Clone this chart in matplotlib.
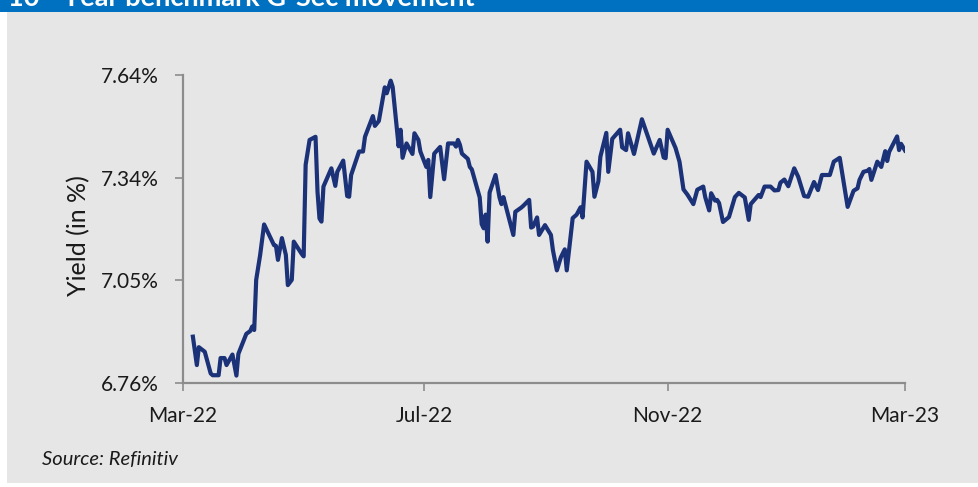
import numpy as np
import pandas as pd
import matplotlib
matplotlib.use('Agg')
import matplotlib.pyplot as plt
from matplotlib.patches import Rectangle

# 10-year G-Sec yield
dates = [
    '2022-03-06', '2022-03-08', '2022-03-09', '2022-03-12', '2022-03-15', '2022-03-16', '2022-03-19', '2022-03-20', '2022-03-22', '2022-03-23',
    '2022-03-26', '2022-03-28', '2022-03-29', '2022-04-02', '2022-04-04', '2022-04-05', '2022-04-06', '2022-04-07', '2022-04-09', '2022-04-11',
    '2022-04-16', '2022-04-17', '2022-04-18', '2022-04-20', '2022-04-22', '2022-04-23', '2022-04-25', '2022-04-26', '2022-04-30', '2022-05-01',
    '2022-05-02', '2022-05-04', '2022-05-07', '2022-05-08', '2022-05-09', '2022-05-10', '2022-05-11', '2022-05-15', '2022-05-17', '2022-05-18',
    '2022-05-21', '2022-05-23', '2022-05-24', '2022-05-25', '2022-05-29', '2022-05-31', '2022-06-01', '2022-06-05', '2022-06-06', '2022-06-08',
    '2022-06-11', '2022-06-12', '2022-06-14', '2022-06-15', '2022-06-18', '2022-06-19', '2022-06-20', '2022-06-22', '2022-06-25', '2022-06-26',
    '2022-06-28', '2022-06-29', '2022-07-02', '2022-07-03', '2022-07-04', '2022-07-06', '2022-07-09', '2022-07-11', '2022-07-13', '2022-07-16',
    '2022-07-17', '2022-07-18', '2022-07-19', '2022-07-20', '2022-07-23', '2022-07-24', '2022-07-25', '2022-07-27', '2022-07-29', '2022-07-30',
    '2022-07-31', '2022-08-01', '2022-08-02', '2022-08-03', '2022-08-06', '2022-08-08', '2022-08-09', '2022-08-10', '2022-08-15', '2022-08-16',
    '2022-08-19', '2022-08-20', '2022-08-23', '2022-08-24', '2022-08-25', '2022-08-27', '2022-08-28', '2022-08-31', '2022-09-03', '2022-09-04',
    '2022-09-06', '2022-09-08', '2022-09-10', '2022-09-11', '2022-09-14', '2022-09-16', '2022-09-18', '2022-09-19', '2022-09-21', '2022-09-24',
    '2022-09-25', '2022-09-27', '2022-09-28', '2022-10-01', '2022-10-02', '2022-10-04', '2022-10-08', '2022-10-09', '2022-10-11', '2022-10-12',
    '2022-10-15', '2022-10-19', '2022-10-25', '2022-10-28', '2022-10-30', '2022-10-31', '2022-11-01', '2022-11-05', '2022-11-07', '2022-11-09',
    '2022-11-11', '2022-11-14', '2022-11-16', '2022-11-19', '2022-11-20', '2022-11-22', '2022-11-23', '2022-11-25', '2022-11-26', '2022-11-27',
    '2022-11-29', '2022-12-02', '2022-12-05', '2022-12-07', '2022-12-10', '2022-12-12', '2022-12-13', '2022-12-17', '2022-12-18', '2022-12-20',
    '2022-12-23', '2022-12-25', '2022-12-27', '2022-12-28', '2022-12-30', '2023-01-01', '2023-01-04', '2023-01-06', '2023-01-09', '2023-01-11',
    '2023-01-14', '2023-01-16', '2023-01-18', '2023-01-22', '2023-01-24', '2023-01-27', '2023-01-31', '2023-02-03', '2023-02-05', '2023-02-06',
    '2023-02-08', '2023-02-10', '2023-02-11', '2023-02-12', '2023-02-15', '2023-02-17', '2023-02-19', '2023-02-20', '2023-02-21', '2023-02-25',
    '2023-02-26', '2023-02-27', '2023-03-01',
]
yields = [
    6.893, 6.812, 6.863, 6.850, 6.788, 6.783, 6.783, 6.832, 6.832, 6.812,
    6.842, 6.782, 6.844, 6.901, 6.909, 6.922, 6.912, 7.055, 7.126, 7.213,
    7.154, 7.152, 7.112, 7.174, 7.126, 7.040, 7.055, 7.164, 7.129, 7.122,
    7.383, 7.454, 7.463, 7.306, 7.230, 7.221, 7.321, 7.373, 7.323, 7.363,
    7.395, 7.294, 7.292, 7.354, 7.421, 7.421, 7.463, 7.522, 7.494, 7.508,
    7.604, 7.587, 7.623, 7.605, 7.436, 7.483, 7.403, 7.444, 7.414, 7.473,
    7.454, 7.421, 7.377, 7.397, 7.291, 7.415, 7.434, 7.342, 7.444, 7.444,
    7.435, 7.454, 7.440, 7.415, 7.400, 7.377, 7.370, 7.330, 7.290, 7.214,
    7.202, 7.241, 7.164, 7.304, 7.354, 7.290, 7.271, 7.291, 7.183, 7.249,
    7.261, 7.266, 7.283, 7.204, 7.207, 7.233, 7.183, 7.211, 7.183, 7.140,
    7.082, 7.119, 7.142, 7.082, 7.231, 7.241, 7.262, 7.233, 7.392, 7.363,
    7.292, 7.336, 7.406, 7.474, 7.363, 7.457, 7.483, 7.433, 7.425, 7.473,
    7.414, 7.513, 7.415, 7.454, 7.404, 7.402, 7.483, 7.431, 7.392, 7.313,
    7.298, 7.271, 7.312, 7.321, 7.291, 7.253, 7.302, 7.281, 7.283, 7.274,
    7.220, 7.234, 7.291, 7.303, 7.290, 7.226, 7.271, 7.297, 7.291, 7.321,
    7.321, 7.310, 7.311, 7.332, 7.341, 7.322, 7.373, 7.349, 7.294, 7.292,
    7.334, 7.311, 7.354, 7.354, 7.392, 7.403, 7.263, 7.309, 7.316, 7.340,
    7.363, 7.366, 7.371, 7.340, 7.392, 7.377, 7.422, 7.394, 7.420, 7.464,
    7.425, 7.443, 7.424,
]
assert len(dates) == len(yields)

ytick_labels = ['6.76%', '7.05%', '7.34%', '7.64%']
xtick_dates = ['2022-03-01', '2022-07-01', '2022-11-01', '2023-03-01']
xtick_labels = ['Mar-22', 'Jul-22', 'Nov-22', 'Mar-23']

title = '10 - Year benchmark G-Sec movement'
source = 'Source: Refinitiv'

plt.rcParams['font.family'] = ['Lato', 'DejaVu Sans']

W, H = 979, 487
fig = plt.figure(figsize=(W / 100, H / 100), dpi=100, facecolor='white')

# grey panel and blue title banner (title is cut by the top edge, as in the source)
fig.patches.append(Rectangle((7 / W, 4 / H), 1 - 7 / W, (483 - 12) / H,
                             transform=fig.transFigure, facecolor='#E6E6E6', edgecolor='none', zorder=-10))
fig.patches.append(Rectangle((0, 1 - 12 / H), 1, 12 / H,
                             transform=fig.transFigure, facecolor='#0070C0', edgecolor='none', zorder=-10))
fig.text(8 / W, 1 - 6 / H, title, color='white', fontsize=19.5, fontweight='bold', va='baseline')

ax = fig.add_axes([183 / W, 1 - 383.3 / H, (905 - 183) / W, (383.3 - 74.7) / H])
ax.set_facecolor('none')

x = pd.to_datetime(dates)
ax.plot(x, yields, color='#1C3278', linewidth=3.0, solid_joinstyle='round')

ax.set_xlim(pd.Timestamp(xtick_dates[0]), pd.Timestamp(xtick_dates[-1]))
ax.set_xticks(pd.to_datetime(xtick_dates))
ax.set_xticklabels(xtick_labels)

ax.set_ylim(6.76, 7.64)
ax.set_yticks(np.linspace(6.76, 7.64, len(ytick_labels)))
ax.set_yticklabels(ytick_labels)

for side in ['top', 'right']:
    ax.spines[side].set_visible(False)
for side in ['left', 'bottom']:
    ax.spines[side].set_color('#8C8C8C')
    ax.spines[side].set_linewidth(1.6)

ax.tick_params(axis='both', which='major', direction='out', length=5.5, width=1.2,
               color='#8C8C8C', labelsize=15, labelcolor='#1a1a1a')
ax.tick_params(axis='x', pad=11)
ax.tick_params(axis='y', pad=12)

ax.set_ylabel('Yield (in %)', fontsize=18, color='#1a1a1a')
ax.yaxis.set_label_coords(-0.128, 0.48)

fig.text(42 / W, 1 - 465 / H, source, fontsize=14.5, style='italic', color='#1a1a1a', va='baseline')

fig.savefig('out.png', dpi=100, facecolor=fig.get_facecolor())
